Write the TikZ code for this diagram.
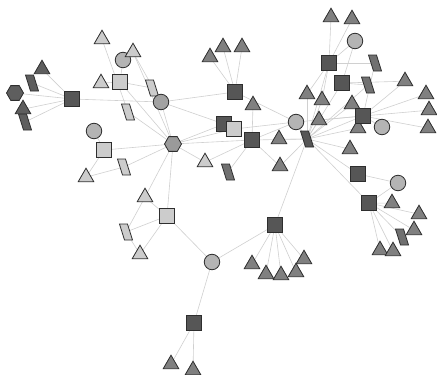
\documentclass[tikz,border=0pt]{standalone}
\usetikzlibrary{shapes.geometric}
\pgfdeclarelayer{bg}
\pgfdeclarelayer{paper}
\pgfsetlayers{paper,bg,main}
\definecolor{outl}{HTML}{2E2E2E}
\definecolor{edgec}{HTML}{D0D0D0}
\definecolor{dkf}{HTML}{565656}
\definecolor{dkb}{HTML}{5E5E5E}
\definecolor{mdf}{HTML}{808080}
\definecolor{mpf}{HTML}{707070}
\definecolor{ltf}{HTML}{CCCCCC}
\definecolor{cif}{HTML}{B4B4B4}
\definecolor{hxf}{HTML}{9A9A9A}
\tikzset{
  shp/.style={draw=outl, line width=0.8pt, inner sep=0pt},
  sq/.style={shp, rectangle, minimum size=15.5pt},
  tri/.style={shp, regular polygon, regular polygon sides=3, minimum size=18pt, yshift=-2.2pt},
  circ/.style={shp, circle, minimum size=15.5pt},
  hex/.style={shp, regular polygon, regular polygon sides=6, minimum size=17pt},
  para/.style={rectangle, inner sep=0pt, minimum width=15pt, minimum height=18pt,
    path picture={\filldraw[draw=outl, line width=0.8pt, fill=#1]
      ([shift={(-6.5pt,8pt)}]path picture bounding box.center) --
      ([shift={(1.5pt,8pt)}]path picture bounding box.center) --
      ([shift={(6.5pt,-8pt)}]path picture bounding box.center) --
      ([shift={(-1.5pt,-8pt)}]path picture bounding box.center) -- cycle;}},
  dk/.style={fill=dkf}, dkb/.style={fill=dkb}, md/.style={fill=mdf}, mp/.style={fill=mpf},
  lt/.style={fill=ltf}, ci/.style={fill=cif}, hx/.style={fill=hxf},
  edge/.style={draw=edgec, line width=0.6pt}
}
\begin{document}
\begin{tikzpicture}[x=1pt,y=-1pt]
\begin{pgfonlayer}{paper}
\fill[white] (0,0) rectangle (437,375);
\end{pgfonlayer}
\useasboundingbox (0,0) rectangle (437,375);
% left dark cluster
\node[para=dkb] (L2) at (32,83) {};
\node[hex,dkb] (L3) at (15,93) {};
\node[para=dkb] (L5) at (25,122) {};
\node[tri,dkb] (L1) at (42,67) {};
\node[tri,dkb] (L4) at (23,107) {};
\node[sq,dk] (LS) at (72,99) {};
% upper left light cluster
\node[tri,lt] (A1) at (102,37) {};
\node[circ,ci] (A2) at (123,60) {};
\node[tri,lt] (A3) at (133,50) {};
\node[tri,lt] (A4) at (101,81) {};
\node[sq,lt] (AS) at (120,82) {};
\node[para=ltf] (A5) at (152,88) {};
\node[para=ltf] (A6) at (128,112) {};
\node[circ,fill=cif!90!black] (C1) at (161,102) {};
\node[circ,ci] (B1) at (94,131) {};
\node[sq,lt] (BS) at (104,150) {};
\node[para=ltf] (B2) at (124,167) {};
\node[tri,lt] (B3) at (86,175) {};
\node[hex,hx] (H) at (173,144) {};
% lower left
\node[tri,lt] (D1) at (145,195) {};
\node[sq,lt] (DS) at (167,216) {};
\node[para=ltf] (D2) at (126,232) {};
\node[tri,lt] (D3) at (140,252) {};
\node[circ,ci] (C2) at (212,262) {};
\node[sq,dk] (ES) at (194,323) {};
\node[tri,md] (E1) at (171,362) {};
\node[tri,md] (E2) at (193,368) {};
% top middle
\node[tri,md] (T1) at (210,55) {};
\node[tri,md] (T2) at (223,45) {};
\node[tri,md] (T3) at (242,45) {};
\node[sq,dk] (TS) at (235,92) {};
\node[tri,md] (T4) at (253,103) {};
\node[sq,dk] (M1) at (224,124) {};
\node[sq,lt] (M2) at (234,129) {};
\node[sq,dk] (M3) at (252,140) {};
\node[tri,lt] (M4) at (205,160) {};
\node[para=mpf] (M5) at (228,172) {};
\node[circ,ci] (C3) at (296,122) {};
\node[tri,md] (M6) at (279,137) {};
\node[tri,md] (M7) at (280,164) {};
% right cluster
\node[tri,md] (R1) at (331,15) {};
\node[tri,md] (R2) at (352,17) {};
\node[circ,ci] (C4) at (355,41) {};
\node[sq,dk] (RS1) at (329,63) {};
\node[sq,dk] (RS2) at (342,83) {};
\node[para=mpf] (R3) at (375,63) {};
\node[para=mpf] (R4) at (368,85) {};
\node[tri,md] (R5) at (405,79) {};
\node[tri,md] (R6) at (307,92) {};
\node[tri,md] (R7) at (322,98) {};
\node[tri,md] (R8) at (352,102) {};
\node[tri,md] (R9) at (426,92) {};
\node[tri,md] (R10) at (358,126) {};
\node[sq,dk] (RS3) at (363,116) {};
\node[circ,ci] (C5) at (382,127) {};
\node[tri,md] (R11) at (319,118) {};
\node[tri,md] (R12) at (429,108) {};
\node[tri,md] (R13) at (428,126) {};
\node[para=dkf] (P) at (307,139) {};
\node[tri,md] (R14) at (350,147) {};
\node[sq,dk] (RS4) at (358,174) {};
\node[circ,ci] (C6) at (398,183) {};
\node[sq,dk] (RS5) at (369,203) {};
\node[tri,md] (R15) at (392,201) {};
\node[tri,md] (R16) at (419,212) {};
\node[tri,md] (R17) at (414,228) {};
\node[para=mpf] (R18) at (402,237) {};
\node[tri,md] (R19) at (380,248) {};
\node[tri,md] (R20) at (393,249) {};
% bottom middle
\node[sq,dk] (FS) at (275,225) {};
\node[tri,md] (F1) at (252,262) {};
\node[tri,md] (F5) at (304,257) {};
\node[tri,md] (F2) at (266,272) {};
\node[tri,md] (F4) at (296,270) {};
\node[tri,md] (F3) at (281,273) {};
\begin{pgfonlayer}{bg}
\foreach \a/\b in {LS/L1,LS/L2,LS/L3,LS/L4,LS/L5,LS/C1,
  A1/A6,A2/AS,A4/AS,AS/A5,A5/C1,A3/C1,A3/H,AS/H,A6/H,C1/H,
  BS/B1,BS/B3,BS/H,B2/B3,B2/H,
  H/D1,H/DS,DS/D1,DS/D2,DS/D3,D2/D1,D2/D3,DS/C2,C2/ES,ES/E1,ES/E2,C2/FS,
  TS/T1,TS/T2,TS/T3,TS/C1,TS/C3,C1/M1,H/M1,H/M2,H/M3,H/M4,M4/M3,M5/M3,T4/M3,
  M3/C3,M3/P,M2/C3,M6/P,M7/P,M7/M3,C3/P,FS/P,
  FS/F1,FS/F2,FS/F3,FS/F4,FS/F5,
  RS1/R1,RS1/R2,RS1/C4,RS1/R3,RS1/R6,RS1/R7,C4/RS2,RS2/R4,RS2/R5,
  P/R6,P/R7,P/RS1,P/RS2,P/R8,P/RS3,P/R10,P/R11,P/R14,P/RS4,P/RS5,P/R4,
  RS3/R3,RS3/R5,RS3/R9,RS3/R12,RS3/R13,RS3/C5,RS3/R8,RS3/C3,RS3/R11,
  RS4/C6,RS5/C6,RS5/R15,RS5/R16,RS5/R17,RS5/R18,RS5/R19,RS5/R20}
  \draw[edge] (\a.center) -- (\b.center);
\end{pgfonlayer}
\end{tikzpicture}
\end{document}
